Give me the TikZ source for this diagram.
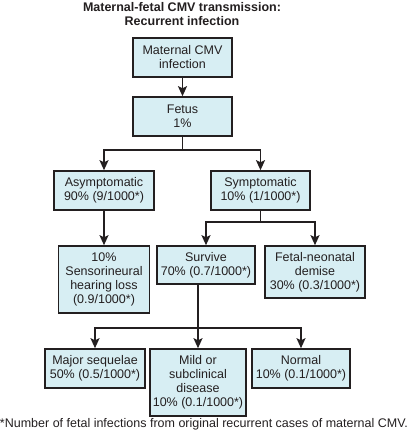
\documentclass[tikz,border=0pt]{standalone}
\usepackage{fontspec}
\setmainfont{Liberation Sans}
\usetikzlibrary{arrows.meta}
\definecolor{cbox}{HTML}{D7EEF3}
\definecolor{cline}{HTML}{231F20}

\begin{document}
\begin{tikzpicture}[x=1pt, y=-1pt,
    bx/.style={draw=cline, fill=cbox, line width=1.6pt, align=center, inner sep=1pt,
      text=cline, font=\fontsize{12.5}{14}\selectfont, minimum height=39pt},
    ln/.style={cline, line width=1.5pt},
    ar/.style={ln, -{Stealth[length=10pt, width=9pt, inset=2pt]}}]
  \useasboundingbox (0,0) rectangle (410,440);
  \node[font=\bfseries\fontsize{12.5}{14}\selectfont, text=cline, align=center] (title)
       at (182,14) {Maternal-fetal CMV transmission:\\Recurrent infection};

  \node[bx, minimum width=99pt] (mat) at (182.5,57.5) {Maternal CMV\\infection};
  \node[bx, minimum width=99pt] (fetus) at (182.5,116.5) {Fetus\\1\%};
  \node[bx, minimum width=100pt] (asym) at (104,190.5) {Asymptomatic\\90\% (9/1000*)};
  \node[bx, minimum width=99pt] (sym) at (260.5,190.5) {Symptomatic\\10\% (1/1000*)};
  \node[bx, minimum width=91pt, minimum height=67pt] (sens) at (104,279.5)
       {10\%\\Sensorineural\\hearing loss\\(0.9/1000*)};
  \node[bx, minimum width=98pt, minimum height=38pt] (surv) at (206,265) {Survive\\70\% (0.7/1000*)};
  \node[bx, minimum width=100pt, minimum height=52pt] (demise) at (315,272)
       {Fetal-neonatal\\demise\\30\% (0.3/1000*)};
  \node[bx, minimum width=100pt] (major) at (95,368.5) {Major sequelae\\50\% (0.5/1000*)};
  \node[bx, minimum width=96pt, minimum height=67pt] (mild) at (198,382.5)
       {Mild or\\subclinical\\disease\\10\% (0.1/1000*)};
  \node[bx, minimum width=98pt] (normal) at (301,368.5) {Normal\\10\% (0.1/1000*)};

  \node[text=cline, font=\fontsize{12.5}{14}\selectfont] (note) at (204,424)
       {*Number of fetal infections from original recurrent cases of maternal CMV.};

  % branch points
  \coordinate (j1) at (fetus.south |- 0,150);
  \coordinate (j2) at (sym.south |- 0,222);
  \coordinate (j3) at (mild.north |- 0,328);

  \draw[ar] (mat) -- (fetus);
  \draw[ln] (fetus.south) -- (j1);
  \draw[ar] (j1) -| (asym.north);
  \draw[ar] (j1) -| (sym.north);
  \draw[ar] (asym) -- (sens);
  \draw[ln] (sym.south) -- (j2);
  \draw[ar] (j2) -| (surv.north);
  \draw[ar] (j2) -| (demise.north);
  \draw[ar] (surv.south -| mild.north) -- (mild.north);
  \draw[ar] (j3) -| (major.north);
  \draw[ar] (j3) -| (normal.north);
\end{tikzpicture}
\end{document}
